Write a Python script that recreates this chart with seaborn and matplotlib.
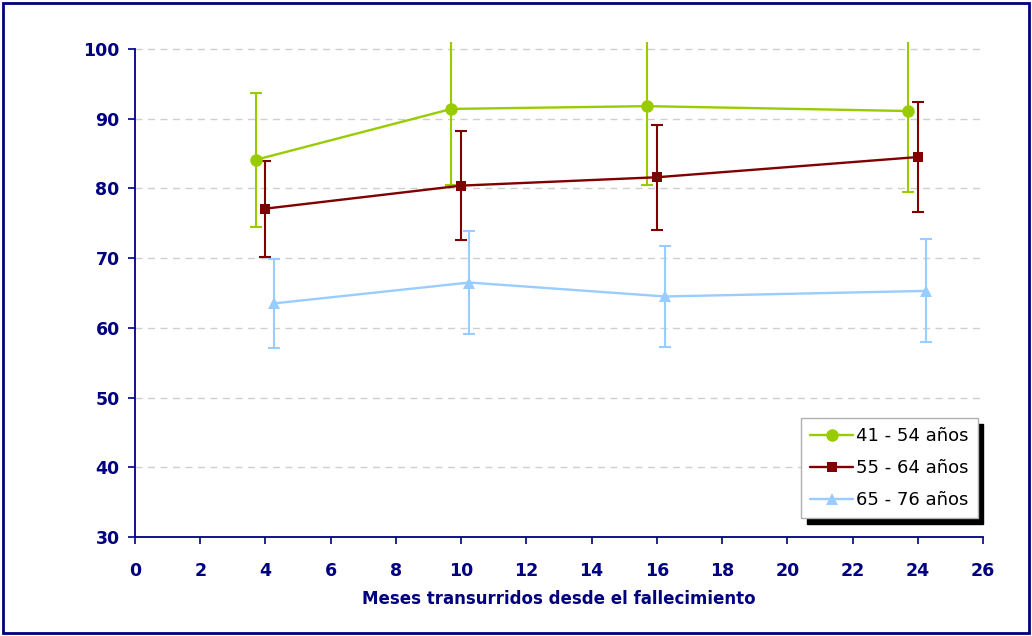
import matplotlib
matplotlib.use("Agg")
import matplotlib.pyplot as plt
from matplotlib.patches import Rectangle
import seaborn as sns
import pandas as pd

# Months since the death, with a small horizontal offset per age group
x_41_54 = [3.7, 9.7, 15.7, 23.7]
x_55_64 = [4.0, 10.0, 16.0, 24.0]
x_65_76 = [4.25, 10.25, 16.25, 24.25]

# Mean scores per age group
y_41_54 = [84.1, 91.4, 91.8, 91.1]
y_55_64 = [77.1, 80.4, 81.6, 84.5]
y_65_76 = [63.5, 66.5, 64.5, 65.3]

# Error bar half-widths
err_41_54 = [9.6, 10.9, 11.3, 11.6]
err_55_64 = [6.9, 7.8, 7.5, 7.9]
err_65_76 = [6.4, 7.4, 7.3, 7.4]

groups = ["41 - 54 años", "55 - 64 años", "65 - 76 años"]
x_ticks = list(range(0, 27, 2))
y_ticks = list(range(30, 101, 10))
x_label = "Meses transurridos desde el fallecimiento"

NAVY = "#000080"
colors = {"41 - 54 años": "#99CC00", "55 - 64 años": "#800000", "65 - 76 años": "#99CCFF"}
markers = {"41 - 54 años": "o", "55 - 64 años": "s", "65 - 76 años": "^"}
msizes = {"41 - 54 años": 9, "55 - 64 años": 7, "65 - 76 años": 8.5}

df = pd.concat([
    pd.DataFrame({"mes": x_41_54, "valor": y_41_54, "err": err_41_54, "grupo": groups[0]}),
    pd.DataFrame({"mes": x_55_64, "valor": y_55_64, "err": err_55_64, "grupo": groups[1]}),
    pd.DataFrame({"mes": x_65_76, "valor": y_65_76, "err": err_65_76, "grupo": groups[2]}),
], ignore_index=True)

sns.set_theme(style="white")
plt.rcParams["font.family"] = ["DejaVu Sans"]

fig = plt.figure(figsize=(10.32, 6.36), dpi=100)
ax = fig.add_axes([135 / 1032, 1 - 537 / 636, 848 / 1032, 495 / 636])

# Error bars first, then the lines with markers on top
for g in groups:
    sub = df[df["grupo"] == g]
    ax.errorbar(sub["mes"], sub["valor"], yerr=sub["err"], fmt="none",
                ecolor=colors[g], elinewidth=1.5, capsize=4, capthick=1.5, zorder=2)

sns.lineplot(data=df, x="mes", y="valor", hue="grupo", style="grupo",
             palette=colors, markers=markers, dashes=False, sort=False,
             linewidth=1.7, markeredgewidth=0, ax=ax, zorder=3, legend=False)
for line, g in zip(ax.get_lines()[-3:], groups):
    line.set_markersize(msizes[g])

# Axes, ticks and grid
ax.set_xlim(0, 26)
ax.set_ylim(30, 101)
ax.set_xticks(x_ticks)
ax.set_yticks(y_ticks)
ax.spines["top"].set_visible(False)
ax.spines["right"].set_visible(False)
for s in ("left", "bottom"):
    ax.spines[s].set_color(NAVY)
    ax.spines[s].set_linewidth(1.3)
ax.spines["left"].set_bounds(30, 100)
ax.tick_params(axis="both", which="major", direction="out", length=5, width=1.2,
               color=NAVY, labelcolor=NAVY, labelsize=12.5)
ax.tick_params(axis="x", pad=13, bottom=True)
ax.tick_params(axis="y", pad=6, left=True)
for lab in ax.get_xticklabels() + ax.get_yticklabels():
    lab.set_fontweight("bold")
ax.yaxis.grid(True, linestyle=(0, (5, 4)), color="#CFCFCF", linewidth=1)
ax.xaxis.grid(False)
for gl, t in zip(ax.yaxis.get_gridlines(), y_ticks):
    if t == 30:
        gl.set_visible(False)
ax.set_axisbelow(True)
ax.set_xlabel(x_label, color=NAVY, fontsize=12, fontweight="bold", labelpad=7)
ax.set_ylabel("")

# Legend with a solid black drop shadow
handles = [plt.Line2D([], [], color=colors[g], marker=markers[g], markersize=msizes[g],
                      markeredgewidth=0, linewidth=1.7) for g in groups]
leg = ax.legend(handles, groups, loc="upper right", bbox_to_anchor=(0.994, 0.24),
                borderaxespad=0, fontsize=13, frameon=True, fancybox=False,
                shadow={"ox": 4, "oy": -4, "color": "black", "alpha": 1},
                handlelength=2.35, handletextpad=0.2, labelspacing=0.78,
                borderpad=0.5, labelcolor="black")
leg.get_frame().set_edgecolor("#B0B0B0")
leg.get_frame().set_linewidth(1)

# Navy frame around the whole chart
fig.patches.append(Rectangle((3 / 1032, 3 / 636), 1026 / 1032, 630 / 636,
                             transform=fig.transFigure, fill=False,
                             edgecolor=NAVY, linewidth=2))

fig.savefig("out.png", dpi=100)
